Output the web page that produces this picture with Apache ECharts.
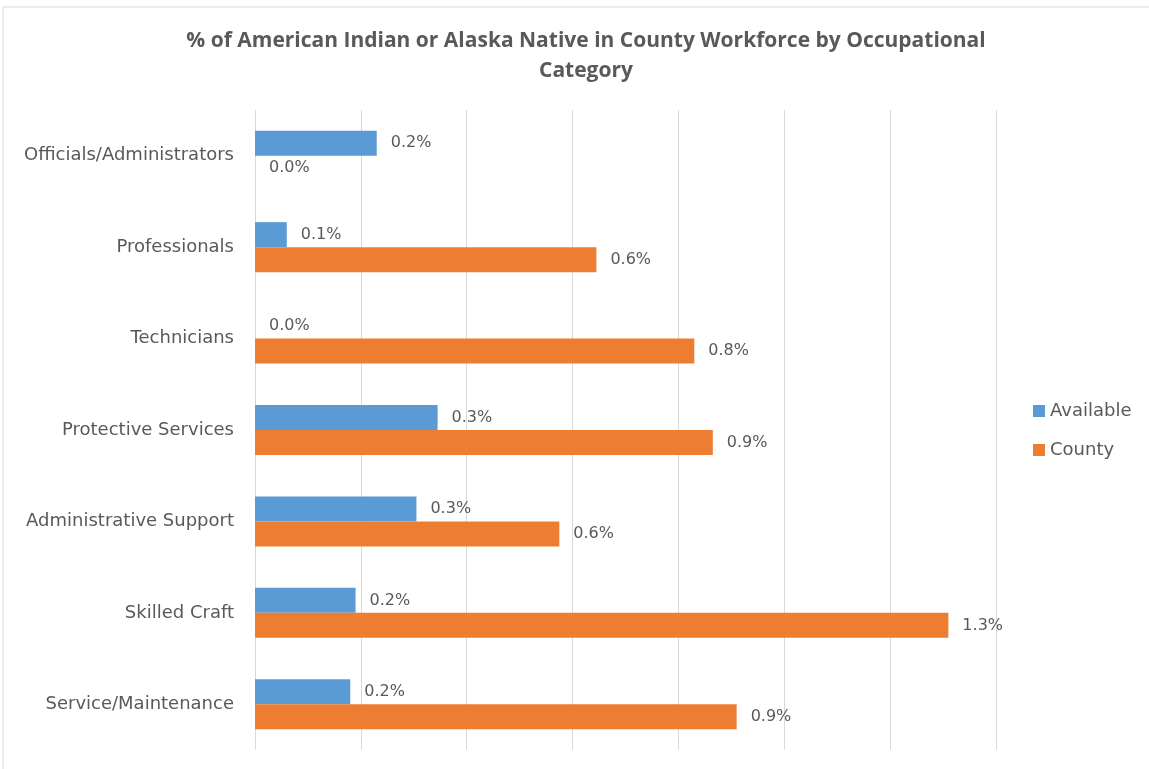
<!DOCTYPE html>
<html>
<head>
<meta charset="utf-8">
<script src="https://cdn.jsdelivr.net/npm/echarts@6/dist/echarts.min.js"></script>
<style>
html, body { margin: 0; padding: 0; background: #fff; }
#chart { width: 1149px; height: 769px; }
</style>
</head>
<body>
<div id="chart"></div>
<script>
var categories = ['Officials/Administrators', 'Professionals', 'Technicians', 'Protective Services',
    'Administrative Support', 'Skilled Craft', 'Service/Maintenance'];
var available = [0.23, 0.06, 0.0, 0.345, 0.305, 0.19, 0.18];
var county = [0.0, 0.645, 0.83, 0.865, 0.575, 1.31, 0.91];

var textColor = '#595959';
var e = echarts.init(document.getElementById('chart'));

function pct(p) {
    return p.value.toFixed(1) + '%';
}

var lbl = {
    show: true,
    position: 'right',
    distance: 14,
    formatter: pct,
    color: textColor,
    fontFamily: 'DejaVu Sans',
    fontSize: 16
};

e.setOption({
    animation: false,
    title: {
        text: '% of American Indian or Alaska Native in County Workforce by Occupational\nCategory',
        left: 581,
        textAlign: 'center',
        top: 21,
        textStyle: {
            color: textColor,
            fontFamily: 'Open Sans',
            fontWeight: 'bold',
            fontSize: 21,
            lineHeight: 30
        }
    },
    graphic: [{
        type: 'rect',
        shape: {x: 3, y: 7, width: 1170, height: 800},
        style: {fill: 'none', stroke: '#d9d9d9', lineWidth: 1},
        silent: true
    }],
    legend: {
        orient: 'vertical',
        left: 1033,
        top: 402,
        padding: 0,
        itemWidth: 12,
        itemHeight: 12,
        itemGap: 21,
        icon: 'rect',
        textStyle: {color: textColor, fontFamily: 'DejaVu Sans', fontSize: 18},
        data: ['Available', 'County']
    },
    grid: {left: 255, right: 153, top: 110, bottom: 19},
    xAxis: {
        type: 'value',
        min: 0,
        max: 1.4,
        interval: 0.2,
        axisLabel: {show: false},
        axisLine: {show: false},
        axisTick: {show: false},
        splitLine: {lineStyle: {color: '#d9d9d9'}}
    },
    yAxis: {
        type: 'category',
        inverse: true,
        data: categories,
        axisLine: {show: false},
        axisTick: {show: false},
        axisLabel: {color: textColor, fontFamily: 'DejaVu Sans', fontSize: 18, margin: 21,
            padding: [3, 0, 0, 0]}
    },
    series: [
        {name: 'Available', type: 'bar', data: available, barWidth: 25, barGap: '0%',
            itemStyle: {color: '#5b9bd5'}, label: lbl},
        {name: 'County', type: 'bar', data: county, barWidth: 25, barGap: '0%',
            itemStyle: {color: '#ed7d31'}, label: lbl}
    ]
});
</script>
</body>
</html>
